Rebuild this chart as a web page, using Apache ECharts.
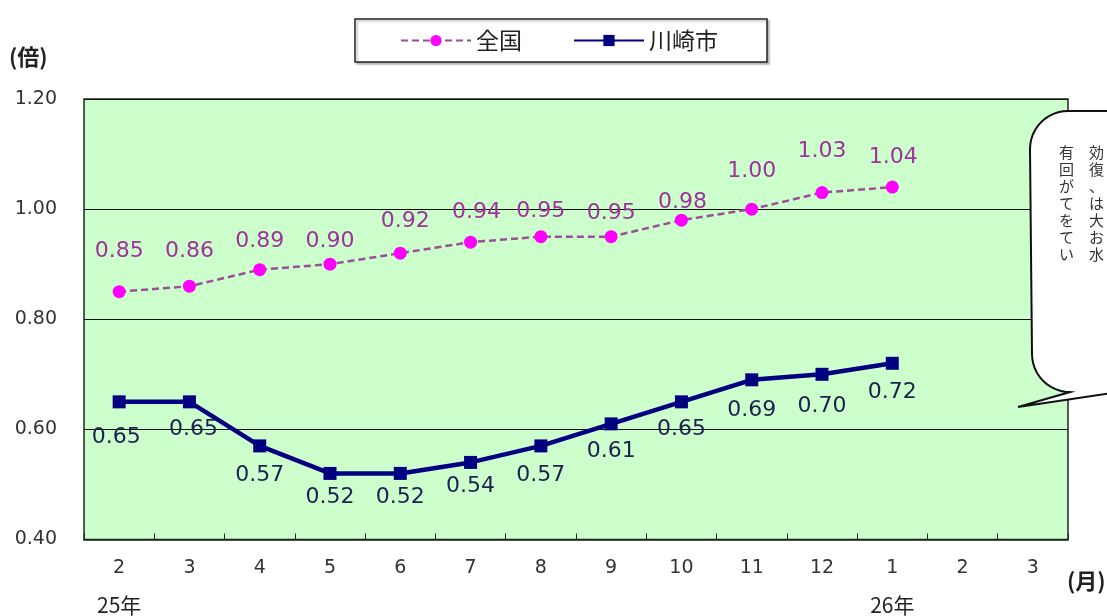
<!DOCTYPE html>
<html>
<head>
<meta charset="utf-8">
<script src="https://cdn.jsdelivr.net/npm/echarts@6/dist/echarts.min.js"></script>
<style>
  html, body { margin: 0; padding: 0; background: #fff; }
  #chart { width: 1107px; height: 616px; }
</style>
</head>
<body>
<div id="chart"></div>
<script>
// Monthly job-offer ratio (有効求人倍率): nationwide vs Kawasaki
const months = ['2', '3', '4', '5', '6', '7', '8', '9', '10', '11', '12', '1', '2', '3'];
const yearTags = { 0: '25年', 11: '26年' };
const zenkoku = [0.85, 0.86, 0.89, 0.90, 0.92, 0.94, 0.95, 0.95, 0.98, 1.00, 1.03, 1.04, null, null];
const kawasaki = [0.65, 0.65, 0.57, 0.52, 0.52, 0.54, 0.57, 0.61, 0.65, 0.69, 0.70, 0.72, null, null];
const yMin = 0.4, yMax = 1.2, yStep = 0.2;
const calloutLines = ['有　効', '回　復', 'が　、', 'て　は', 'を　大', 'て　お', 'い　水'];

// per-point label nudges (pixels, relative to the marker centre)
const zenkokuLabelShift = [[0,-40],[0,-35],[0,-28],[0,-23],[5,-32],[6,-30],[0,-25],[0,-23],[1,-18],[0,-38],[0,-41],[1,-30]];
const kawasakiLabelShift = [[-3,35],[4,27],[0,29],[0,24],[0,24],[0,24],[0,29],[0,27],[0,27],[0,30],[0,32],[0,29]];

const numFont = 'DejaVu Sans';
const cjkFont = 'Noto Sans CJK JP';

function withShift(values, shifts) {
  return values.map((v, i) => v == null ? null : ({
    value: v,
    label: { offset: shifts[i] || [0, 0] }
  }));
}

// outline of the speech bubble: rounded left corners and a pointer to the left
function bubbleOutline() {
  const pts = [];
  const r = 38;
  pts.push([1112, 111]);
  // top-left corner, centre (1068, 149)
  for (let k = 0; k <= 12; k++) {
    const a = -Math.PI / 2 - (Math.PI / 2) * (k / 12);
    pts.push([1068 + r * Math.cos(a), 149 + r * Math.sin(a)]);
  }
  // bottom-left corner, centre (1070, 354)
  for (let k = 0; k <= 12; k++) {
    const a = Math.PI - (Math.PI / 2) * (k / 12);
    pts.push([1070 + r * Math.cos(a), 354 + r * Math.sin(a)]);
  }
  pts.push([1018, 407]);
  pts.push([1112, 393]);
  return pts;
}

const chart = echarts.init(document.getElementById('chart'), null, { renderer: 'canvas' });

chart.setOption({
  animation: false,
  backgroundColor: '#ffffff',
  grid: {
    left: 84, right: 39, top: 99, bottom: 76,
    show: true,
    backgroundColor: '#ccffcc',
    borderColor: '#1e2a1e',
    borderWidth: 1.5
  },
  legend: {
    left: 355, top: 19,
    itemWidth: 70, itemHeight: 14, itemGap: 51,
    padding: [10, 49, 10, 45],
    borderColor: '#222', borderWidth: 1.5,
    backgroundColor: '#fff',
    shadowColor: 'rgba(0,0,0,0.25)', shadowOffsetX: 2, shadowOffsetY: 2, shadowBlur: 2,
    textStyle: { fontSize: 23, fontFamily: cjkFont, color: '#222' },
    data: ['全国', '川崎市']
  },
  xAxis: {
    type: 'category',
    data: months,
    boundaryGap: true,
    axisLine: { show: true, lineStyle: { color: '#1e2a1e', width: 1.5 } },
    axisTick: { show: true, inside: true, length: 6, lineStyle: { color: '#1e2a1e' } },
    splitLine: { show: false },
    axisLabel: {
      margin: 18,
      interval: 0,
      formatter: (v, i) => yearTags[i] ? `{m|${v}}\n{y|${yearTags[i]}}` : `{m|${v}}`,
      rich: {
        m: { fontSize: 19, fontFamily: numFont, color: '#333', lineHeight: 22 },
        y: { fontSize: 21, fontFamily: cjkFont, color: '#222', lineHeight: 52 }
      }
    }
  },
  yAxis: {
    type: 'value',
    min: yMin, max: yMax, interval: yStep,
    axisLine: { show: false },
    axisTick: { show: false },
    splitLine: { show: true, lineStyle: { color: '#111', width: 1 } },
    axisLabel: {
      margin: 27,
      fontSize: 19, fontFamily: numFont, color: '#333',
      formatter: v => v.toFixed(2)
    }
  },
  series: [
    {
      name: '全国',
      type: 'line',
      data: withShift(zenkoku, zenkokuLabelShift),
      symbol: 'circle',
      symbolSize: 13,
      itemStyle: { color: '#ff00ff' },
      lineStyle: { color: '#9a4f96', width: 2.5, type: [7, 4] },
      label: {
        show: true,
        position: 'inside',
        fontSize: 22, fontFamily: numFont, color: '#a0329c',
        formatter: p => p.value == null ? '' : Number(p.value).toFixed(2)
      },
      z: 3
    },
    {
      name: '川崎市',
      type: 'line',
      data: withShift(kawasaki, kawasakiLabelShift),
      symbol: 'rect',
      symbolSize: 13,
      itemStyle: { color: '#000080' },
      lineStyle: { color: '#000080', width: 4.5 },
      label: {
        show: true,
        position: 'inside',
        fontSize: 22, fontFamily: numFont, color: '#1c2250',
        formatter: p => p.value == null ? '' : Number(p.value).toFixed(2)
      },
      z: 4
    }
  ],
  graphic: [
    {
      type: 'text', x: 9, y: 46, z: 10,
      style: { text: '(倍)', fontSize: 22, fontWeight: 'bold', fontFamily: cjkFont, fill: '#222' }
    },
    {
      type: 'text', x: 1067, y: 570, z: 10,
      style: { text: '(月)', fontSize: 22, fontWeight: 'bold', fontFamily: cjkFont, fill: '#222' }
    },
    {
      type: 'polygon', z: 100,
      shape: { points: bubbleOutline() },
      style: { fill: '#ffffff', stroke: '#111', lineWidth: 2 }
    },
    {
      type: 'text', z: 101,
      x: 1059, y: 144,
      style: {
        text: calloutLines.join('\n'),
        fontSize: 15, lineHeight: 17,
        fontFamily: cjkFont, fill: '#333'
      }
    }
  ]
});
</script>
</body>
</html>
